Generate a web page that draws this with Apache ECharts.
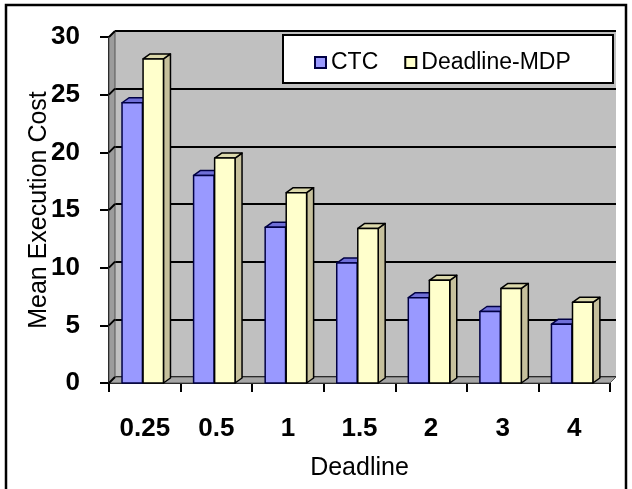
<!DOCTYPE html>
<html>
<head>
<meta charset="utf-8">
<script src="https://cdn.jsdelivr.net/npm/echarts@6/dist/echarts.min.js"></script>
<style>
  html, body { margin: 0; padding: 0; background: #fff; }
  #chart { width: 632px; height: 489px; }
</style>
</head>
<body>
<div id="chart"></div>
<script>
const categories = ['0.25', '0.5', '1', '1.5', '2', '3', '4'];
const ctcCost = [24.3, 18.0, 13.5, 10.4, 7.4, 6.2, 5.1];
const mdpCost = [28.1, 19.5, 16.5, 13.4, 8.9, 8.2, 7.0];
const yTicks = [0, 5, 10, 15, 20, 25, 30];

const FONT = '"Liberation Sans", Arial, sans-serif';
// 3d depth of the bars and of the walls, in pixels
const barDx = 7, barDy = -5;
const wallDx = 6, wallDy = -6;

const chart = echarts.init(document.getElementById('chart'));

const makeBar = (offsetFrac, front, top, side, stroke) => (params, api) => {
  const i = api.value(0);
  const v = api.value(1);
  const pTop = api.coord([i, v]);
  const pBase = api.coord([i, 0]);
  const bw = api.size([1, 0])[0];
  const w = bw * 0.285;
  const x0 = pTop[0] + bw * offsetFrac;
  const x1 = x0 + w;
  const y0 = pTop[1];
  const y1 = pBase[1];
  const lineStyle = { stroke: stroke, lineWidth: 1.5, lineJoin: 'round' };
  return {
    type: 'group',
    children: [
      {
        type: 'polygon',
        shape: { points: [[x1, y1], [x1 + barDx, y1 + barDy], [x1 + barDx, y0 + barDy], [x1, y0]] },
        style: Object.assign({ fill: side }, lineStyle)
      },
      {
        type: 'polygon',
        shape: { points: [[x0, y0], [x0 + barDx, y0 + barDy], [x1 + barDx, y0 + barDy], [x1, y0]] },
        style: Object.assign({ fill: top }, lineStyle)
      },
      {
        type: 'rect',
        shape: { x: x0, y: y0, width: w, height: y1 - y0 },
        style: Object.assign({ fill: front }, lineStyle)
      }
    ]
  };
};

const renderWalls = (params, api) => {
  const cs = params.coordSys;
  const x = cs.x, y = cs.y, w = cs.width, h = cs.height;
  const children = [
    {
      type: 'polygon',
      shape: { points: [[x, y], [x + wallDx, y + wallDy], [x + wallDx, y + h + wallDy], [x, y + h]] },
      style: { fill: '#9c9c9c', stroke: '#555', lineWidth: 1 }
    },
    {
      type: 'polygon',
      shape: { points: [[x, y + h], [x + wallDx, y + h + wallDy], [x + w + wallDx, y + h + wallDy], [x + w, y + h]] },
      style: { fill: '#a6a6a6', stroke: '#555', lineWidth: 1 }
    }
  ];
  yTicks.forEach(t => {
    const py = api.coord([0, t])[1];
    children.push({
      type: 'line',
      shape: { x1: x, y1: py, x2: x + wallDx, y2: py + wallDy },
      style: { stroke: '#000', lineWidth: 2 }
    });
  });
  return { type: 'group', children: children };
};

const option = {
  animation: false,
  backgroundColor: '#fff',
  textStyle: { fontFamily: FONT },
  graphic: [
    {
      type: 'rect',
      shape: { x: 6, y: 5, width: 620, height: 500 },
      style: { fill: 'none', stroke: '#000', lineWidth: 2.5 },
      z: 100
    },
    {
      type: 'rect',
      shape: { x: 283, y: 35, width: 330, height: 48 },
      style: { fill: '#fff', stroke: '#000', lineWidth: 2 },
      z: 50
    }
  ],
  legend: {
    left: 309,
    top: 46,
    z: 60,
    itemWidth: 11,
    itemHeight: 11,
    itemGap: 26,
    icon: 'rect',
    textStyle: { fontFamily: FONT, fontSize: 23, color: '#000', padding: [0, 0, 0, 0] },
    data: [
      { name: 'CTC', itemStyle: { color: '#9999ff', borderColor: '#000044', borderWidth: 2 } },
      { name: 'Deadline-MDP', itemStyle: { color: '#ffffcc', borderColor: '#000', borderWidth: 2 } }
    ]
  },
  grid: [
    // front plane: axes, labels and bars
    { left: 109, right: 22, top: 37, bottom: 106 },
    // back wall: grey wall with grid lines
    { left: 115, right: 16, top: 31, bottom: 112, show: true, backgroundColor: '#c0c0c0', borderWidth: 0 }
  ],
  xAxis: [
    {
      type: 'category',
      gridIndex: 0,
      data: categories,
      name: 'Deadline',
      nameLocation: 'middle',
      nameGap: 73,
      nameMoveOverlap: false,
      nameTextStyle: { fontFamily: FONT, fontSize: 25, color: '#000' },
      axisLine: { lineStyle: { color: '#000', width: 2 } },
      axisTick: { show: true, length: 9, lineStyle: { color: '#000', width: 2 } },
      axisLabel: { margin: 33, fontFamily: FONT, fontSize: 26, fontWeight: 'bold', color: '#000' },
      splitLine: { show: false }
    },
    {
      type: 'category',
      gridIndex: 1,
      data: categories,
      show: false
    }
  ],
  yAxis: [
    {
      type: 'value',
      gridIndex: 0,
      min: 0,
      max: 30,
      interval: 5,
      name: 'Mean Execution Cost',
      nameLocation: 'middle',
      nameGap: 57,
      nameMoveOverlap: false,
      nameTextStyle: { fontFamily: FONT, fontSize: 25, color: '#000' },
      axisLine: { show: true, lineStyle: { color: '#000', width: 2 } },
      axisTick: { show: true, length: 9, lineStyle: { color: '#000', width: 2 } },
      axisLabel: { margin: 29, fontFamily: FONT, fontSize: 26, fontWeight: 'bold', color: '#000' },
      splitLine: { show: false }
    },
    {
      type: 'value',
      gridIndex: 1,
      min: 0,
      max: 30,
      interval: 5,
      axisLine: { show: false },
      axisTick: { show: false },
      axisLabel: { show: false },
      splitLine: { show: true, lineStyle: { color: '#000', width: 2 } }
    }
  ],
  series: [
    {
      type: 'custom',
      name: 'walls',
      xAxisIndex: 0,
      yAxisIndex: 0,
      renderItem: renderWalls,
      data: [[0, 0]],
      silent: true,
      z: 1
    },
    {
      type: 'custom',
      name: 'CTC',
      xAxisIndex: 0,
      yAxisIndex: 0,
      renderItem: makeBar(-0.318, '#9999ff', '#6f6fd8', '#5a5ab0', '#000044'),
      encode: { x: 0, y: 1 },
      data: ctcCost.map((v, i) => [i, v]),
      itemStyle: { color: '#9999ff' },
      z: 2
    },
    {
      type: 'custom',
      name: 'Deadline-MDP',
      xAxisIndex: 0,
      yAxisIndex: 0,
      renderItem: makeBar(-0.024, '#ffffcc', '#dcd9ac', '#c6c09c', '#000'),
      encode: { x: 0, y: 1 },
      data: mdpCost.map((v, i) => [i, v]),
      itemStyle: { color: '#ffffcc' },
      z: 3
    }
  ]
};

chart.setOption(option);
</script>
</body>
</html>
